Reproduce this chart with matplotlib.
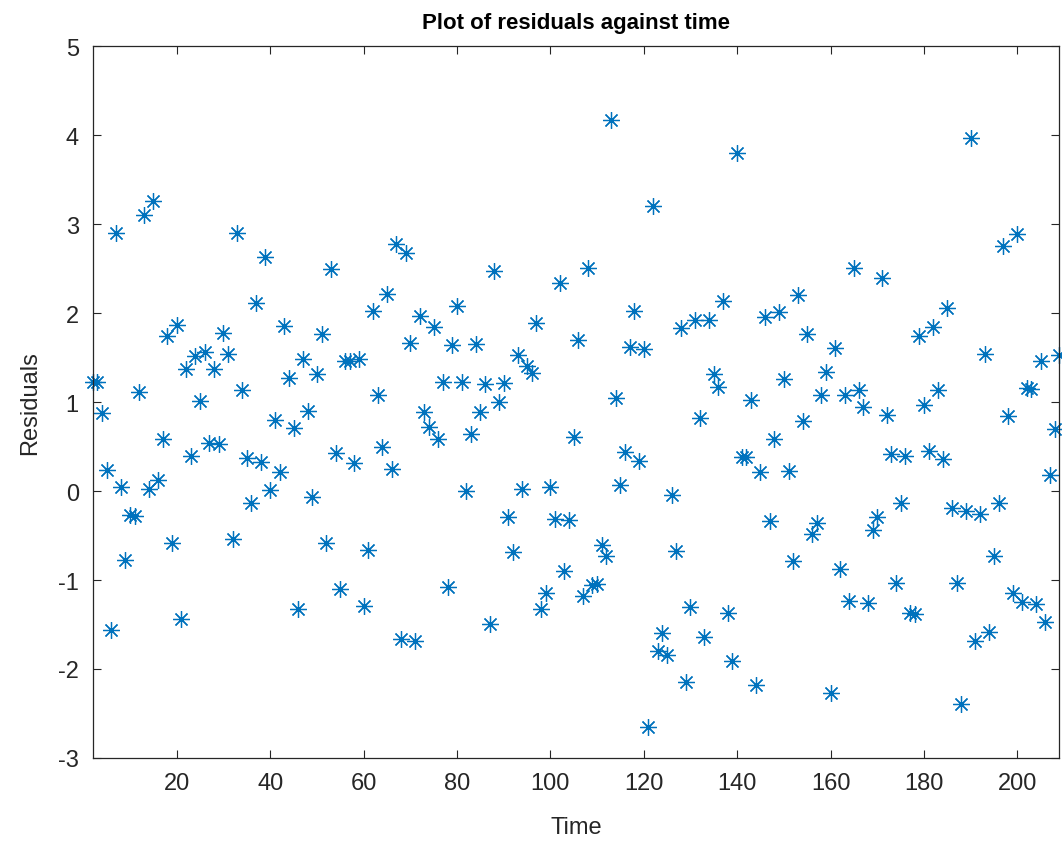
import numpy as np
from matplotlib import pyplot as plt

# residual at each time step (time runs from 2 to 209)
time = list(range(2, 210))
residuals = [
    1.23, 1.23, 0.88, 0.24, -1.56, 2.90, 0.04, -0.78, -0.27, -0.28,
    1.11, 3.10, 0.02, 3.26, 0.12, 0.59, 1.74, -0.58, 1.86, -1.44,
    1.37, 0.39, 1.52, 1.01, 1.56, 0.54, 1.37, 0.53, 1.78, 1.54,
    -0.54, 2.90, 1.14, 0.37, -0.13, 2.11, 0.33, 2.63, 0.01, 0.80,
    0.21, 1.85, 1.27, 0.71, -1.33, 1.48, 0.90, -0.07, 1.32, 1.76,
    -0.58, 2.49, 0.43, -1.10, 1.46, 1.46, 0.32, 1.48, -1.29, -0.66,
    2.02, 1.08, 0.49, 2.21, 0.25, 2.78, -1.66, 2.67, 1.66, -1.68,
    1.97, 0.89, 0.72, 1.84, 0.59, 1.22, -1.08, 1.64, 2.08, 1.23,
    0.00, 0.64, 1.65, 0.89, 1.20, -1.50, 2.47, 1.00, 1.21, -0.29,
    -0.69, 1.53, 0.02, 1.40, 1.33, 1.89, -1.33, -1.15, 0.04, -0.31,
    2.34, -0.90, -0.33, 0.61, 1.70, -1.18, 2.51, -1.06, -1.05, -0.61,
    -0.73, 4.17, 1.04, 0.07, 0.44, 1.62, 2.02, 0.34, 1.60, -2.65,
    3.20, -1.80, -1.60, -1.84, -0.05, -0.67, 1.83, -2.15, -1.30, 1.92,
    0.82, -1.64, 1.92, 1.31, 1.17, 2.13, -1.37, -1.91, 3.80, 0.38,
    0.38, 1.02, -2.18, 0.21, 1.96, -0.34, 0.58, 2.01, 1.26, 0.22,
    -0.79, 2.20, 0.79, 1.76, -0.48, -0.36, 1.08, 1.34, -2.27, 1.61,
    -0.88, 1.08, -1.24, 2.51, 1.14, 0.94, -1.26, -0.44, -0.29, 2.39,
    0.85, 0.42, -1.03, -0.14, 0.39, -1.37, -1.38, 1.74, 0.97, 0.45,
    1.84, 1.13, 0.36, 2.06, -0.19, -1.03, -2.39, -0.22, 3.97, -1.68,
    -0.26, 1.54, -1.58, -0.73, -0.14, 2.75, 0.84, -1.15, 2.89, -1.25,
    1.16, 1.15, -1.27, 1.46, -1.47, 0.18, 0.70, 1.53,
]
x_ticks = [20, 40, 60, 80, 100, 120, 140, 160, 180, 200]
y_ticks = [-3, -2, -1, 0, 1, 2, 3, 4, 5]

plt.rcParams['font.family'] = ['Liberation Sans', 'DejaVu Sans']
plt.rcParams['axes.unicode_minus'] = False
axis_grey = '#262626'

fig = plt.figure(figsize=(10.62, 8.45), dpi=100)
ax = fig.add_axes([0.0873, 0.1018, 0.9102, 0.8425])

# MATLAB style '*' marker: 8 armed asterisk
ax.plot(time, residuals, linestyle='none', marker=(8, 2, 0),
        markersize=12, markeredgewidth=0.9, color='#0072BD', clip_on=False)

ax.set_xlim(2, 209)
ax.set_ylim(-3, 5)
ax.set_xticks(x_ticks)
ax.set_yticks(y_ticks)

ax.set_title('Plot of residuals against time', fontsize=16, fontweight='bold',
             color='black', pad=13)
ax.set_xlabel('Time', fontsize=17, color=axis_grey, labelpad=16)
ax.set_ylabel('Residuals', fontsize=17, color=axis_grey, labelpad=12)

for side in ax.spines.values():
    side.set_color(axis_grey)
    side.set_linewidth(0.9)
ax.tick_params(axis='both', which='major', direction='in', length=6,
               width=0.8, color=axis_grey, labelcolor=axis_grey,
               labelsize=17, top=True, right=True, pad=10)

fig.savefig('out.png', dpi=100)
